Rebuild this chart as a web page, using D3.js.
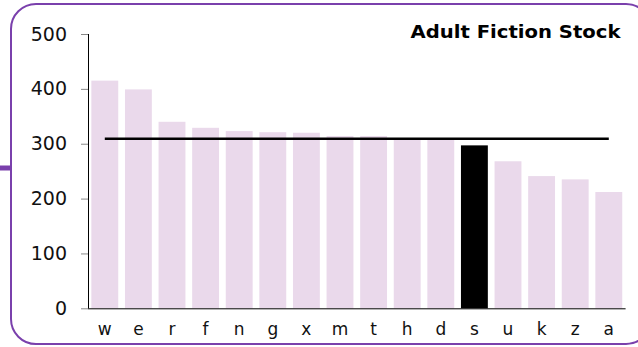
<!DOCTYPE html>
<html>
<head>
<meta charset="utf-8">
<script src="https://cdn.jsdelivr.net/npm/d3@7/dist/d3.min.js"></script>
<style>
  html, body { margin: 0; padding: 0; background: #fff; }
  svg { display: block; }
  text { font-family: "DejaVu Sans", Verdana, sans-serif; }
</style>
</head>
<body>
<svg id="chart" width="638" height="347"></svg>
<script>
const categories = ["w","e","r","f","n","g","x","m","t","h","d","s","u","k","z","a"];
const values = [415, 399, 340, 329, 323, 321, 320, 314, 314, 310, 309, 297, 268, 241, 235, 212];
const highlight = ["s"];
const meanValue = [309];
const yTicks = [0, 100, 200, 300, 400, 500];
const title = "Adult Fiction Stock";

(function () {
const svg = d3.select("#chart");
const mLeft = 88, mRight = 625.6, mTop = 34, mBottom = 308.3;

// frame
svg.append("rect")
  .attr("x", 11).attr("y", 4)
  .attr("width", 640).attr("height", 340)
  .attr("rx", 25).attr("ry", 25)
  .attr("fill", "none")
  .attr("stroke", "#7a40ac")
  .attr("stroke-width", 2);
svg.append("rect")
  .attr("x", 0).attr("y", 165.5)
  .attr("width", 11).attr("height", 5)
  .attr("fill", "#7a40ac");

const x = d3.scaleBand().domain(categories).range([mLeft, mRight])
  .paddingInner(0.2).paddingOuter(0.1);
const y = d3.scaleLinear().domain([0, 500]).range([mBottom, mTop]);

const data = categories.map((c, i) => ({ c, v: values[i] }));

svg.append("g").selectAll("rect").data(data).join("rect")
  .attr("x", d => x(d.c))
  .attr("width", x.bandwidth())
  .attr("y", d => y(d.v))
  .attr("height", d => y(0) - y(d.v))
  .attr("fill", d => highlight.includes(d.c) ? "#000" : "#ead9eb");

// mean line
svg.append("line")
  .attr("x1", x(categories[0]) + x.bandwidth() / 2)
  .attr("x2", x(categories[categories.length - 1]) + x.bandwidth() / 2)
  .attr("y1", y(meanValue[0]))
  .attr("y2", y(meanValue[0]))
  .attr("stroke", "#000")
  .attr("stroke-width", 2.5);

// y axis
const yAxis = svg.append("g").attr("transform", `translate(${mLeft},0)`)
  .call(d3.axisLeft(y).tickValues(yTicks).tickSize(7).tickPadding(14).tickFormat(d3.format("d")));
yAxis.select(".domain").attr("stroke", "#000").attr("d", `M0.5,${mTop}V${mBottom}`);
yAxis.selectAll(".tick line").attr("stroke", "#888");
yAxis.selectAll(".tick text")
  .attr("font-size", 19).attr("fill", "#111")
  .attr("font-family", "'DejaVu Sans', Verdana, sans-serif");

// x axis
const xAxis = svg.append("g").attr("transform", `translate(0,${mBottom})`)
  .call(d3.axisBottom(x).tickSize(0).tickPadding(15));
xAxis.select(".domain").attr("stroke", "#000").attr("d", `M${mLeft},0.5H${mRight}`);
xAxis.selectAll(".tick text")
  .attr("font-size", 17).attr("fill", "#111")
  .attr("font-family", "'DejaVu Sans', Verdana, sans-serif");

// title
svg.append("text")
  .attr("x", 620.5).attr("y", 37.5)
  .attr("text-anchor", "end")
  .attr("font-size", 17.5)
  .attr("font-weight", "bold")
  .attr("fill", "#000")
  .attr("textLength", 210)
  .attr("lengthAdjust", "spacingAndGlyphs")
  .text(title);
})();
</script>
</body>
</html>
